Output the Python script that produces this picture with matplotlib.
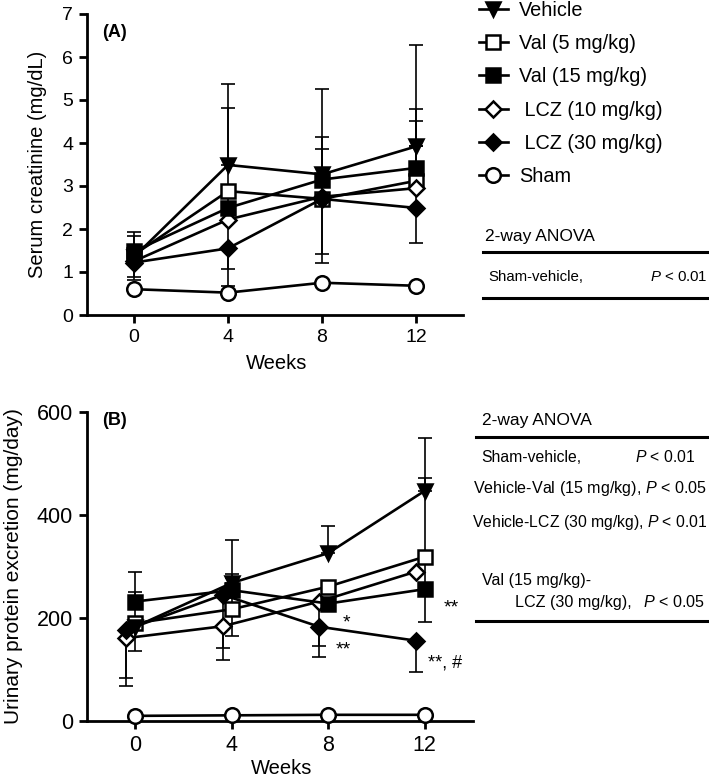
import numpy as np
import matplotlib
matplotlib.use('Agg')
import matplotlib.pyplot as plt
from matplotlib.lines import Line2D

plt.rcParams['font.family'] = ['Liberation Sans', 'DejaVu Sans']
plt.rcParams['mathtext.fontset'] = 'custom'
plt.rcParams['mathtext.rm'] = 'Liberation Sans'
plt.rcParams['mathtext.it'] = 'Liberation Sans:italic'

# ---------------- data ----------------
weeks = [0, 4, 8, 12]
labels = ['Vehicle', 'Val (5 mg/kg)', 'Val (15 mg/kg)', ' LCZ (10 mg/kg)', ' LCZ (30 mg/kg)', 'Sham']

# Panel A: serum creatinine (mg/dL)
creat_vehicle = [1.35, 3.49, 3.27, 3.92]
creat_val5 = [1.40, 2.88, 2.70, 3.12]
creat_val15 = [1.48, 2.49, 3.15, 3.42]
creat_lcz10 = [1.25, 2.22, 2.75, 2.95]
creat_lcz30 = [1.22, 1.55, 2.70, 2.49]
creat_sham = [0.60, 0.52, 0.75, 0.68]
# error bars (upper / lower extent), 0 = not shown
creat_vehicle_hi = [0.49, 1.88, 1.99, 2.36]
creat_vehicle_lo = [0.47, 0.0, 2.06, 2.25]
creat_val5_hi = [0.0, 1.94, 1.44, 1.39]
creat_val5_lo = [0.0, 1.81, 1.28, 0.0]
creat_val15_hi = [0.45, 0.0, 0.71, 1.37]
creat_val15_lo = [0.66, 0.0, 0.0, 0.0]
creat_lcz10_hi = [0.0, 0.0, 0.0, 0.0]
creat_lcz10_lo = [0.0, 0.0, 0.0, 0.0]
creat_lcz30_hi = [0.0, 0.0, 0.0, 0.0]
creat_lcz30_lo = [0.0, 0.88, 0.0, 0.0]
creat_sham_hi = [0.0, 0.0, 0.0, 0.0]
creat_sham_lo = [0.0, 0.0, 0.0, 0.0]

# Panel B: urinary protein excretion (mg/day)
prot_vehicle = [183, 268, 326, 447]
prot_val5 = [190, 217, 261, 319]
prot_val15 = [232, 254, 228, 256]
prot_lcz10 = [161, 184, 232, 290]
prot_lcz30 = [177, 245, 183, 156]
prot_sham = [10, 11, 12, 12]
prot_vehicle_hi = [0, 83, 53, 103]
prot_vehicle_lo = [0, 0, 0, 0]
prot_val5_hi = [60, 60, 0, 153]
prot_val5_lo = [54, 52, 0, 127]
prot_val15_hi = [57, 31, 0, 0]
prot_val15_lo = [0, 0, 0, 0]
prot_lcz10_hi = [0, 0, 0, 0]
prot_lcz10_lo = [78, 42, 86, 0]
prot_lcz30_hi = [0, 0, 0, 0]
prot_lcz30_lo = [109, 127, 59, 60]
prot_sham_hi = [0, 0, 0, 0]
prot_sham_lo = [0, 0, 0, 0]

# ---------------- styles ----------------
styles = [
    dict(marker='v', mfc='black', ms=10),
    dict(marker='s', mfc='white', ms=10),
    dict(marker='s', mfc='black', ms=10),
    dict(marker='D', mfc='white', ms=8.5),
    dict(marker='D', mfc='black', ms=8.5),
    dict(marker='o', mfc='white', ms=10.5),
]
zorders = [5, 4, 7, 6, 8, 9]

fig = plt.figure(figsize=(7.09, 7.8), dpi=100)
W, H = 709, 780

axA = fig.add_axes([87 / W, 1 - 315 / H, 376 / W, 301 / H])
axB = fig.add_axes([87 / W, 1 - 721 / H, 386 / W, 309 / H])


def draw_panel(ax, vals, his, los, offsets):
    handles = []
    for i, (v, hi, lo) in enumerate(zip(vals, his, los)):
        x = np.array(weeks, float) + offsets[i]
        v = np.array(v, float)
        hi = np.array(hi, float)
        lo = np.array(lo, float)
        m = hi > 0
        if m.any():
            ax.errorbar(x[m], v[m], yerr=[np.zeros(m.sum()), hi[m]], fmt='none',
                        ecolor='black', elinewidth=1.2, capsize=5, capthick=1.2,
                        zorder=1, clip_on=False)
        m = lo > 0
        if m.any():
            ax.errorbar(x[m], v[m], yerr=[lo[m], np.zeros(m.sum())], fmt='none',
                        ecolor='black', elinewidth=1.2, capsize=5, capthick=1.2,
                        zorder=1, clip_on=False)
        st = styles[i]
        ln, = ax.plot(x, v, color='black', lw=1.9, marker=st['marker'],
                      mfc=st['mfc'], mec='black', mew=1.8, ms=st['ms'],
                      zorder=zorders[i], clip_on=False, label=labels[i])
        handles.append(ln)
    return handles


def style_axes(ax, fs):
    for s in ['top', 'right']:
        ax.spines[s].set_visible(False)
    for s in ['left', 'bottom']:
        ax.spines[s].set_linewidth(2.0)
    ax.tick_params(direction='out', length=6, width=2.0, labelsize=fs, pad=4)
    ax.set_xlim(-2, 14)
    ax.set_xticks(weeks)


valsA = [creat_vehicle, creat_val5, creat_val15, creat_lcz10, creat_lcz30, creat_sham]
hisA = [creat_vehicle_hi, creat_val5_hi, creat_val15_hi, creat_lcz10_hi, creat_lcz30_hi, creat_sham_hi]
losA = [creat_vehicle_lo, creat_val5_lo, creat_val15_lo, creat_lcz10_lo, creat_lcz30_lo, creat_sham_lo]
handles = draw_panel(axA, valsA, hisA, losA, [0, 0, 0, 0, 0, 0])
style_axes(axA, 14)
axA.set_ylim(0, 7)
axA.set_yticks(range(0, 8))
axA.set_ylabel('Serum creatinine (mg/dL)', fontsize=14.5)
axA.yaxis.set_label_coords(-0.106, 0.5)
axA.set_xlabel('Weeks', fontsize=14.5)
axA.xaxis.set_label_coords(0.505, -0.13)
axA.text(0.04, 0.94, '(A)', transform=axA.transAxes, fontsize=13,
         fontweight='bold', va='center', ha='left')

valsB = [prot_vehicle, prot_val5, prot_val15, prot_lcz10, prot_lcz30, prot_sham]
hisB = [prot_vehicle_hi, prot_val5_hi, prot_val15_hi, prot_lcz10_hi, prot_lcz30_hi, prot_sham_hi]
losB = [prot_vehicle_lo, prot_val5_lo, prot_val15_lo, prot_lcz10_lo, prot_lcz30_lo, prot_sham_lo]
draw_panel(axB, valsB, hisB, losB, [0, 0, 0, -0.37, -0.37, 0])
style_axes(axB, 15.5)
axB.set_ylim(0, 600)
axB.set_yticks([0, 200, 400, 600])
axB.set_ylabel('Urinary protein excretion (mg/day)', fontsize=15)
axB.yaxis.set_label_coords(-0.165, 0.5)
axB.set_xlabel('Weeks', fontsize=14.5)
axB.xaxis.set_label_coords(0.505, -0.122)
axB.text(0.04, 0.974, '(B)', transform=axB.transAxes, fontsize=13,
         fontweight='bold', va='center', ha='left')

# significance marks
axB.text(8.76, 190, '*', fontsize=14, ha='center', va='center')
axB.text(8.64, 137, '**', fontsize=14, ha='center', va='center')
axB.text(13.12, 220, '**', fontsize=14, ha='center', va='center')
axB.text(12.83, 113, '**, #', fontsize=13, ha='center', va='center')

# legend
fig.legend(handles, labels, loc='upper left', bbox_to_anchor=(479 / W, 0.999),
           frameon=False, fontsize=14.3, handlelength=1.45, handletextpad=0.55,
           labelspacing=0.72, borderpad=0, borderaxespad=0, numpoints=1)

# ANOVA tables
def hline(y, x0, x1=1.0):
    fig.add_artist(Line2D([x0, x1], [1 - y / H, 1 - y / H], color='black', lw=2.2,
                          transform=fig.transFigure))

def ftext(x, y, s, fs, ha='left'):
    fig.text(x / W, 1 - y / H, s, fontsize=fs, ha=ha, va='center')

ftext(485, 237, '2-way ANOVA', 12.5)
hline(252, 483 / W)
ftext(488, 277, 'Sham-vehicle,', 10.8)
ftext(708, 277, '$P$ < 0.01', 10.8, ha='right')
hline(298, 483 / W)

ftext(482, 420, '2-way ANOVA', 12.5)
hline(437, 476 / W)
ftext(481, 457, 'Sham-vehicle,', 11.3)
ftext(695, 457, '$P$ < 0.01', 11.3, ha='right')
ftext(473, 489, 'Vehicle-Val (15 mg/kg), $P$ < 0.05', 11.6)
ftext(472, 522, 'Vehicle-LCZ (30 mg/kg), $P$ < 0.01', 11.3)
ftext(482, 580, 'Val (15 mg/kg)-', 11.6)
ftext(515, 602, 'LCZ (30 mg/kg),', 11.6)
ftext(705, 602, '$P$ < 0.05', 11.6, ha='right')
hline(621, 476 / W)

fig.savefig('out.png', dpi=100)
